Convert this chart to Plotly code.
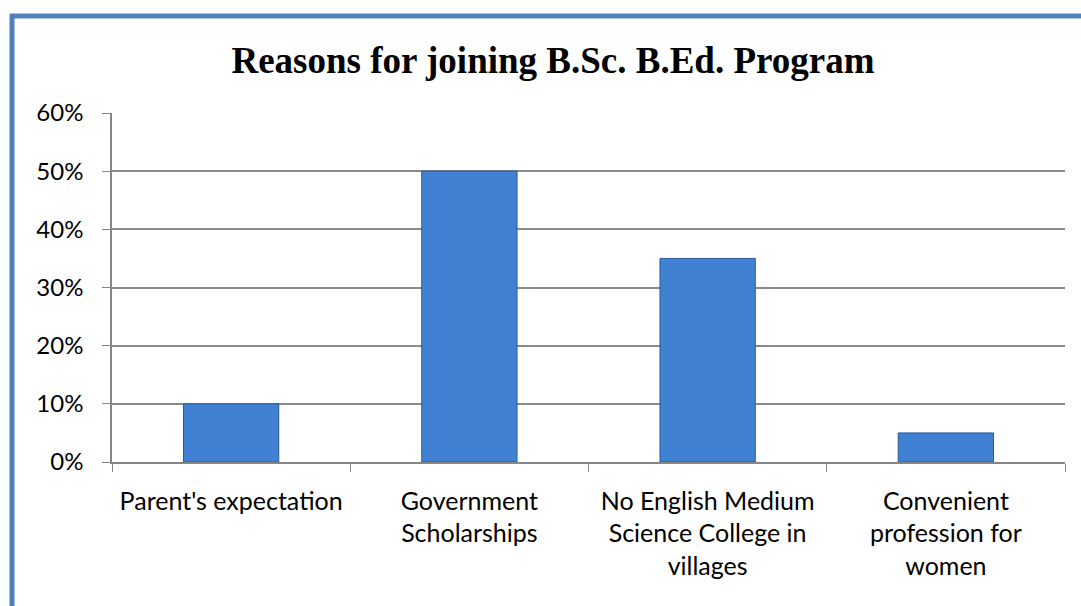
import plotly.graph_objects as go

categories = [
    "Parent's expectation",
    "Government<br>Scholarships",
    "No English Medium<br>Science College in<br>villages",
    "Convenient<br>profession for<br>women",
]
values = [0.10, 0.50, 0.35, 0.05]
y_ticks = [0, 0.1, 0.2, 0.3, 0.4, 0.5, 0.6]
title_text = "Reasons for joining B.Sc. B.Ed. Program"

W, H = 1081, 606
ML, MR, MT, MB = 112, 16, 113, 144
pw, ph = W - ML - MR, H - MT - MB

def px_x(p):
    return (p - ML) / pw

def px_y(p):
    return 1 - (p - MT) / ph

fig = go.Figure()
fig.add_trace(go.Bar(
    x=categories, y=values,
    marker=dict(color="#4181D3", line=dict(color="#2A5A96", width=1)),
    hoverinfo="x+y",
))

fig.update_layout(
    width=W, height=H,
    margin=dict(l=ML, r=MR, t=MT, b=MB),
    paper_bgcolor="white", plot_bgcolor="white",
    bargap=0.6,
    showlegend=False,
    title=dict(
        text=title_text,
        font=dict(family="Liberation Serif", size=37, color="black", weight="bold"),
        x=553 / W, xref="container", xanchor="center",
        y=1 - 60 / H, yref="container", yanchor="middle",
    ),
    font=dict(family="Lato", size=25, color="black"),
    xaxis=dict(
        type="category",
        tickson="boundaries",
        ticks="outside", ticklen=8, tickcolor="#868686", tickwidth=1,
        showline=True, linecolor="#868686", linewidth=1.5,
        showgrid=False,
        ticklabelstandoff=16,
        tickfont=dict(family="Lato", size=25, color="black"),
    ),
    yaxis=dict(
        range=[0, 0.6],
        tickvals=y_ticks,
        tickformat=".0%",
        ticks="outside", ticklen=8, tickcolor="#868686", tickwidth=1,
        showline=True, linecolor="#868686", linewidth=1.5,
        showgrid=True, gridcolor="#8A8A8A", gridwidth=1.5,
        zeroline=False,
        ticklabelstandoff=14,
        tickfont=dict(family="Lato", size=24, color="black"),
    ),
    shapes=[
        dict(type="rect", xref="paper", yref="paper",
             x0=px_x(12), x1=px_x(1110), y0=px_y(640), y1=px_y(16),
             line=dict(color="#4F81BD", width=5), fillcolor="rgba(0,0,0,0)",
             layer="above"),
    ],
)

fig.write_html("out.html")
